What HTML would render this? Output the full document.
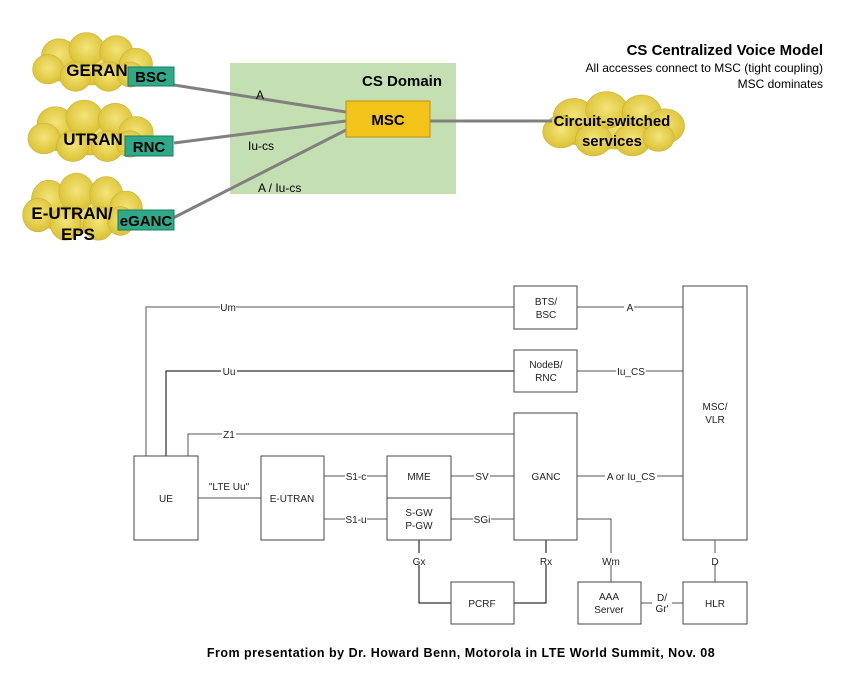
<!DOCTYPE html>
<html><head><meta charset="utf-8"><style>
body{margin:0;background:#fff}
svg{display:block}
.b{font-family:"Liberation Sans",sans-serif;font-weight:bold}
.s{font-family:"Liberation Sans",sans-serif;font-size:10px;fill:#222}
</style></head><body>
<svg width="855" height="689" viewBox="0 0 855 689">
<defs>
<radialGradient id="cg" cx="50%" cy="45%" r="60%"><stop offset="0" stop-color="#f4e47a"/><stop offset="1" stop-color="#d9bf2c"/></radialGradient>
<g id="cloud">
<ellipse cx="0" cy="0" rx="50" ry="20"/>
<circle cx="-30" cy="-8" r="16"/><circle cx="-5" cy="-14" r="16"/><circle cx="22" cy="-12" r="15"/><circle cx="40" cy="0" r="15"/>
<circle cx="-40" cy="5" r="14"/><circle cx="-15" cy="12" r="14"/><circle cx="15" cy="12" r="14"/><circle cx="35" cy="10" r="12"/>
</g>
</defs>
<rect x="230" y="63" width="226" height="131" fill="#c4e0b2"/>
<g fill="url(#cg)" stroke="#c8b040" stroke-width="0.5">
<use href="#cloud" transform="translate(92,64) scale(1.1,1.05)"/>
<use href="#cloud" transform="translate(90,133) scale(1.15,1.1)"/>
<use href="#cloud" transform="translate(82,209) scale(1.1,1.2)"/>
<use href="#cloud" transform="translate(613,126) scale(1.3,1.15)"/>
</g>
<g stroke="#808080" stroke-width="3" fill="none">
<line x1="174" y1="85" x2="346" y2="112"/>
<line x1="174" y1="143" x2="346" y2="121"/>
<line x1="173" y1="218" x2="346" y2="130"/>
<line x1="430" y1="121" x2="552" y2="121"/>
</g>
<rect x="346" y="101" width="84" height="36" fill="#f2c318" stroke="#c09010"/>
<text x="388" y="125" class="b" font-size="15" text-anchor="middle">MSC</text>
<text x="442" y="86" class="b" font-size="15" text-anchor="end">CS Domain</text>
<g font-family="Liberation Sans" font-size="12">
<text x="256" y="99">A</text><text x="248" y="150">Iu-cs</text><text x="258" y="192">A / Iu-cs</text>
</g>
<g class="b" font-size="17" text-anchor="middle">
<text x="97" y="76">GERAN</text><text x="93" y="145">UTRAN</text>
<text x="72" y="219">E-UTRAN/</text><text x="78" y="240">EPS</text>
<text x="612" y="126" font-size="15">Circuit-switched</text><text x="612" y="146" font-size="15">services</text>
</g>
<g fill="#2fa98a" stroke="#1b7a60">
<rect x="128" y="67" width="46" height="19"/><rect x="125" y="136" width="48" height="20"/><rect x="118" y="210" width="56" height="20"/>
</g>
<g class="b" font-size="15" text-anchor="middle">
<text x="151" y="82">BSC</text><text x="149" y="152">RNC</text><text x="146" y="226">eGANC</text>
</g>
<g text-anchor="end" font-family="Liberation Sans">
<text x="823" y="55" font-weight="bold" font-size="15">CS Centralized Voice Model</text>
<text x="823" y="72" font-size="12">All accesses connect to MSC (tight coupling)</text>
<text x="823" y="88" font-size="12">MSC dominates</text>
</g>
<g stroke="#555" stroke-width="1" fill="none">
<polyline points="146,456 146,307 514,307"/>
<polyline points="166,456 166,371 514,371" stroke="#000"/>
<polyline points="188,456 188,434 514,434"/>
<line x1="198" y1="498" x2="261" y2="498"/>
<line x1="324" y1="476" x2="387" y2="476"/><line x1="324" y1="519" x2="387" y2="519"/>
<line x1="451" y1="476" x2="514" y2="476"/><line x1="451" y1="519" x2="514" y2="519"/>
<line x1="577" y1="307" x2="683" y2="307"/><line x1="577" y1="371" x2="683" y2="371"/>
<line x1="577" y1="476" x2="683" y2="476"/>
<polyline points="419,540 419,603 451,603" stroke="#000"/>
<polyline points="546,540 546,603 514,603" stroke="#000"/>
<polyline points="577,519 611,519 611,582"/>
<line x1="715" y1="540" x2="715" y2="582"/>
<line x1="641" y1="603" x2="683" y2="603"/>
</g>
<g stroke="#444" stroke-width="1" fill="#fff">
<rect x="134" y="456" width="64" height="84"/><rect x="261" y="456" width="63" height="84"/>
<rect x="387" y="456" width="64" height="84"/><line x1="387" y1="498" x2="451" y2="498"/>
<rect x="514" y="286" width="63" height="43"/><rect x="514" y="350" width="63" height="42"/>
<rect x="514" y="413" width="63" height="127"/><rect x="683" y="286" width="64" height="254"/>
<rect x="451" y="582" width="63" height="42"/><rect x="578" y="582" width="63" height="42"/><rect x="683" y="582" width="64" height="42"/>
</g>
<g class="s" text-anchor="middle">
<g fill="#fff"><rect x="220" y="302" width="16" height="10"/><rect x="221" y="366" width="16" height="10"/><rect x="222" y="429" width="14" height="10"/>
<rect x="345" y="471" width="22" height="10"/><rect x="345" y="514" width="22" height="10"/><rect x="474" y="471" width="16" height="10"/><rect x="473" y="514" width="18" height="10"/>
<rect x="624" y="302" width="10" height="10"/><rect x="616" y="366" width="30" height="10"/><rect x="605" y="471" width="52" height="10"/>
<rect x="410" y="553" width="18" height="12"/><rect x="537" y="553" width="18" height="12"/><rect x="601" y="553" width="20" height="12"/><rect x="708" y="553" width="14" height="12"/><rect x="652" y="592" width="20" height="22"/></g>
<text x="228" y="311">Um</text><text x="229" y="375">Uu</text><text x="229" y="438">Z1</text>
<text x="229" y="490">"LTE Uu"</text>
<text x="356" y="480">S1-c</text><text x="356" y="523">S1-u</text>
<text x="482" y="480">SV</text><text x="482" y="523">SGi</text>
<text x="630" y="311">A</text><text x="631" y="375">Iu_CS</text><text x="631" y="480">A or Iu_CS</text>
<text x="419" y="565">Gx</text><text x="546" y="565">Rx</text><text x="611" y="565">Wm</text><text x="715" y="565">D</text>
<text x="662" y="601">D/</text><text x="662" y="612">Gr'</text>
<text x="166" y="502">UE</text><text x="292" y="502">E-UTRAN</text>
<text x="419" y="480">MME</text><text x="419" y="516">S-GW</text><text x="419" y="529">P-GW</text>
<text x="546" y="305">BTS/</text><text x="546" y="318">BSC</text>
<text x="546" y="368">NodeB/</text><text x="546" y="381">RNC</text>
<text x="546" y="480">GANC</text>
<text x="715" y="410">MSC/</text><text x="715" y="423">VLR</text>
<text x="482" y="607">PCRF</text><text x="609" y="600">AAA</text><text x="609" y="613">Server</text><text x="715" y="607">HLR</text>
</g>
<text x="461" y="657" class="b" font-size="12.5" text-anchor="middle" letter-spacing="0.5">From presentation by Dr. Howard Benn, Motorola in LTE World Summit, Nov. 08</text>
</svg>
</body></html>
